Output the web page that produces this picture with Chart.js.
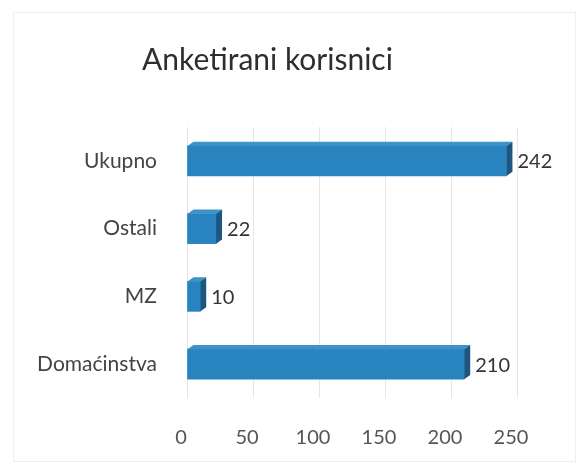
<!DOCTYPE html>
<html>
<head>
<meta charset="utf-8">
<script src="https://cdn.jsdelivr.net/npm/chart.js@4/dist/chart.umd.min.js"></script>
<style>
  html, body { margin: 0; padding: 0; background: #fff; }
  #wrap { position: absolute; left: 0; top: 0; width: 585px; height: 467px; }
  #frame { position: absolute; left: 13px; top: 12px; width: 563px; height: 450px; border: 1px solid #efefef; box-sizing: border-box; pointer-events: none; }
</style>
</head>
<body>
<div id="wrap"><canvas id="c" width="585" height="467"></canvas><div id="frame"></div></div>
<script>
const titleText = 'Anketirani korisnici';
const categories = ['Ukupno', 'Ostali', 'MZ', 'Domaćinstva'];
const values = [242, 22, 10, 210];
const xTicks = [0, 50, 100, 150, 200, 250];

const FONT = 'Lato, "Open Sans", sans-serif';
const DEPTH = 6;

const bar3d = {
  id: 'bar3d',
  afterDatasetsDraw(chart) {
    const ctx = chart.ctx;
    const meta = chart.getDatasetMeta(0);
    ctx.save();
    meta.data.forEach((el, i) => {
      const p = el.getProps(['x', 'y', 'base', 'height'], true);
      const top = p.y - p.height / 2, bot = p.y + p.height / 2;
      const x0 = p.base, x1 = p.x, d = DEPTH;
      ctx.beginPath();
      ctx.moveTo(x0, top); ctx.lineTo(x0 + d, top - d * 0.7);
      ctx.lineTo(x1 + d, top - d * 0.7); ctx.lineTo(x1, top); ctx.closePath();
      ctx.fillStyle = '#3c93c8'; ctx.fill();
      ctx.beginPath();
      ctx.moveTo(x1, top); ctx.lineTo(x1 + d, top - d * 0.7);
      ctx.lineTo(x1 + d, bot - d * 0.7); ctx.lineTo(x1, bot); ctx.closePath();
      ctx.fillStyle = '#1b5780'; ctx.fill();
      ctx.fillStyle = '#333';
      ctx.font = '20px ' + FONT;
      ctx.textAlign = 'left'; ctx.textBaseline = 'middle';
      ctx.fillText(String(values[i]), x1 + d + 5, p.y + 1);
    });
    ctx.restore();
  }
};

new Chart(document.getElementById('c'), {
  type: 'bar',
  data: {
    labels: categories,
    datasets: [{
      data: values,
      backgroundColor: '#2883be',
      borderWidth: 0,
      barThickness: 30
    }]
  },
  options: {
    indexAxis: 'y',
    responsive: false,
    animation: false,
    layout: { padding: { left: 18, right: 68, top: 0, bottom: 0 } },
    plugins: {
      legend: { display: false },
      tooltip: { enabled: false },
      title: {
        display: true,
        text: titleText,
        color: '#2e2e2e',
        font: { family: FONT, size: 30, weight: 'normal' },
        padding: { top: 42, bottom: 49 }
      }
    },
    scales: {
      x: {
        min: 0, max: 250,
        afterBuildTicks(axis) { axis.ticks = xTicks.map(v => ({ value: v })); },
        afterFit(axis) { axis.height = 69; },
        grid: { color: '#e6e6e6', drawTicks: false },
        border: { display: false },
        ticks: { color: '#555', font: { family: FONT, size: 20 }, padding: 28, labelOffset: -6 }
      },
      y: {
        grid: { display: false },
        border: { display: false },
        afterFit(axis) { axis.width = 169; },
        ticks: { color: '#444', font: { family: FONT, size: 21 }, padding: 22 }
      }
    }
  },
  plugins: [bar3d]
});
</script>
</body>
</html>
